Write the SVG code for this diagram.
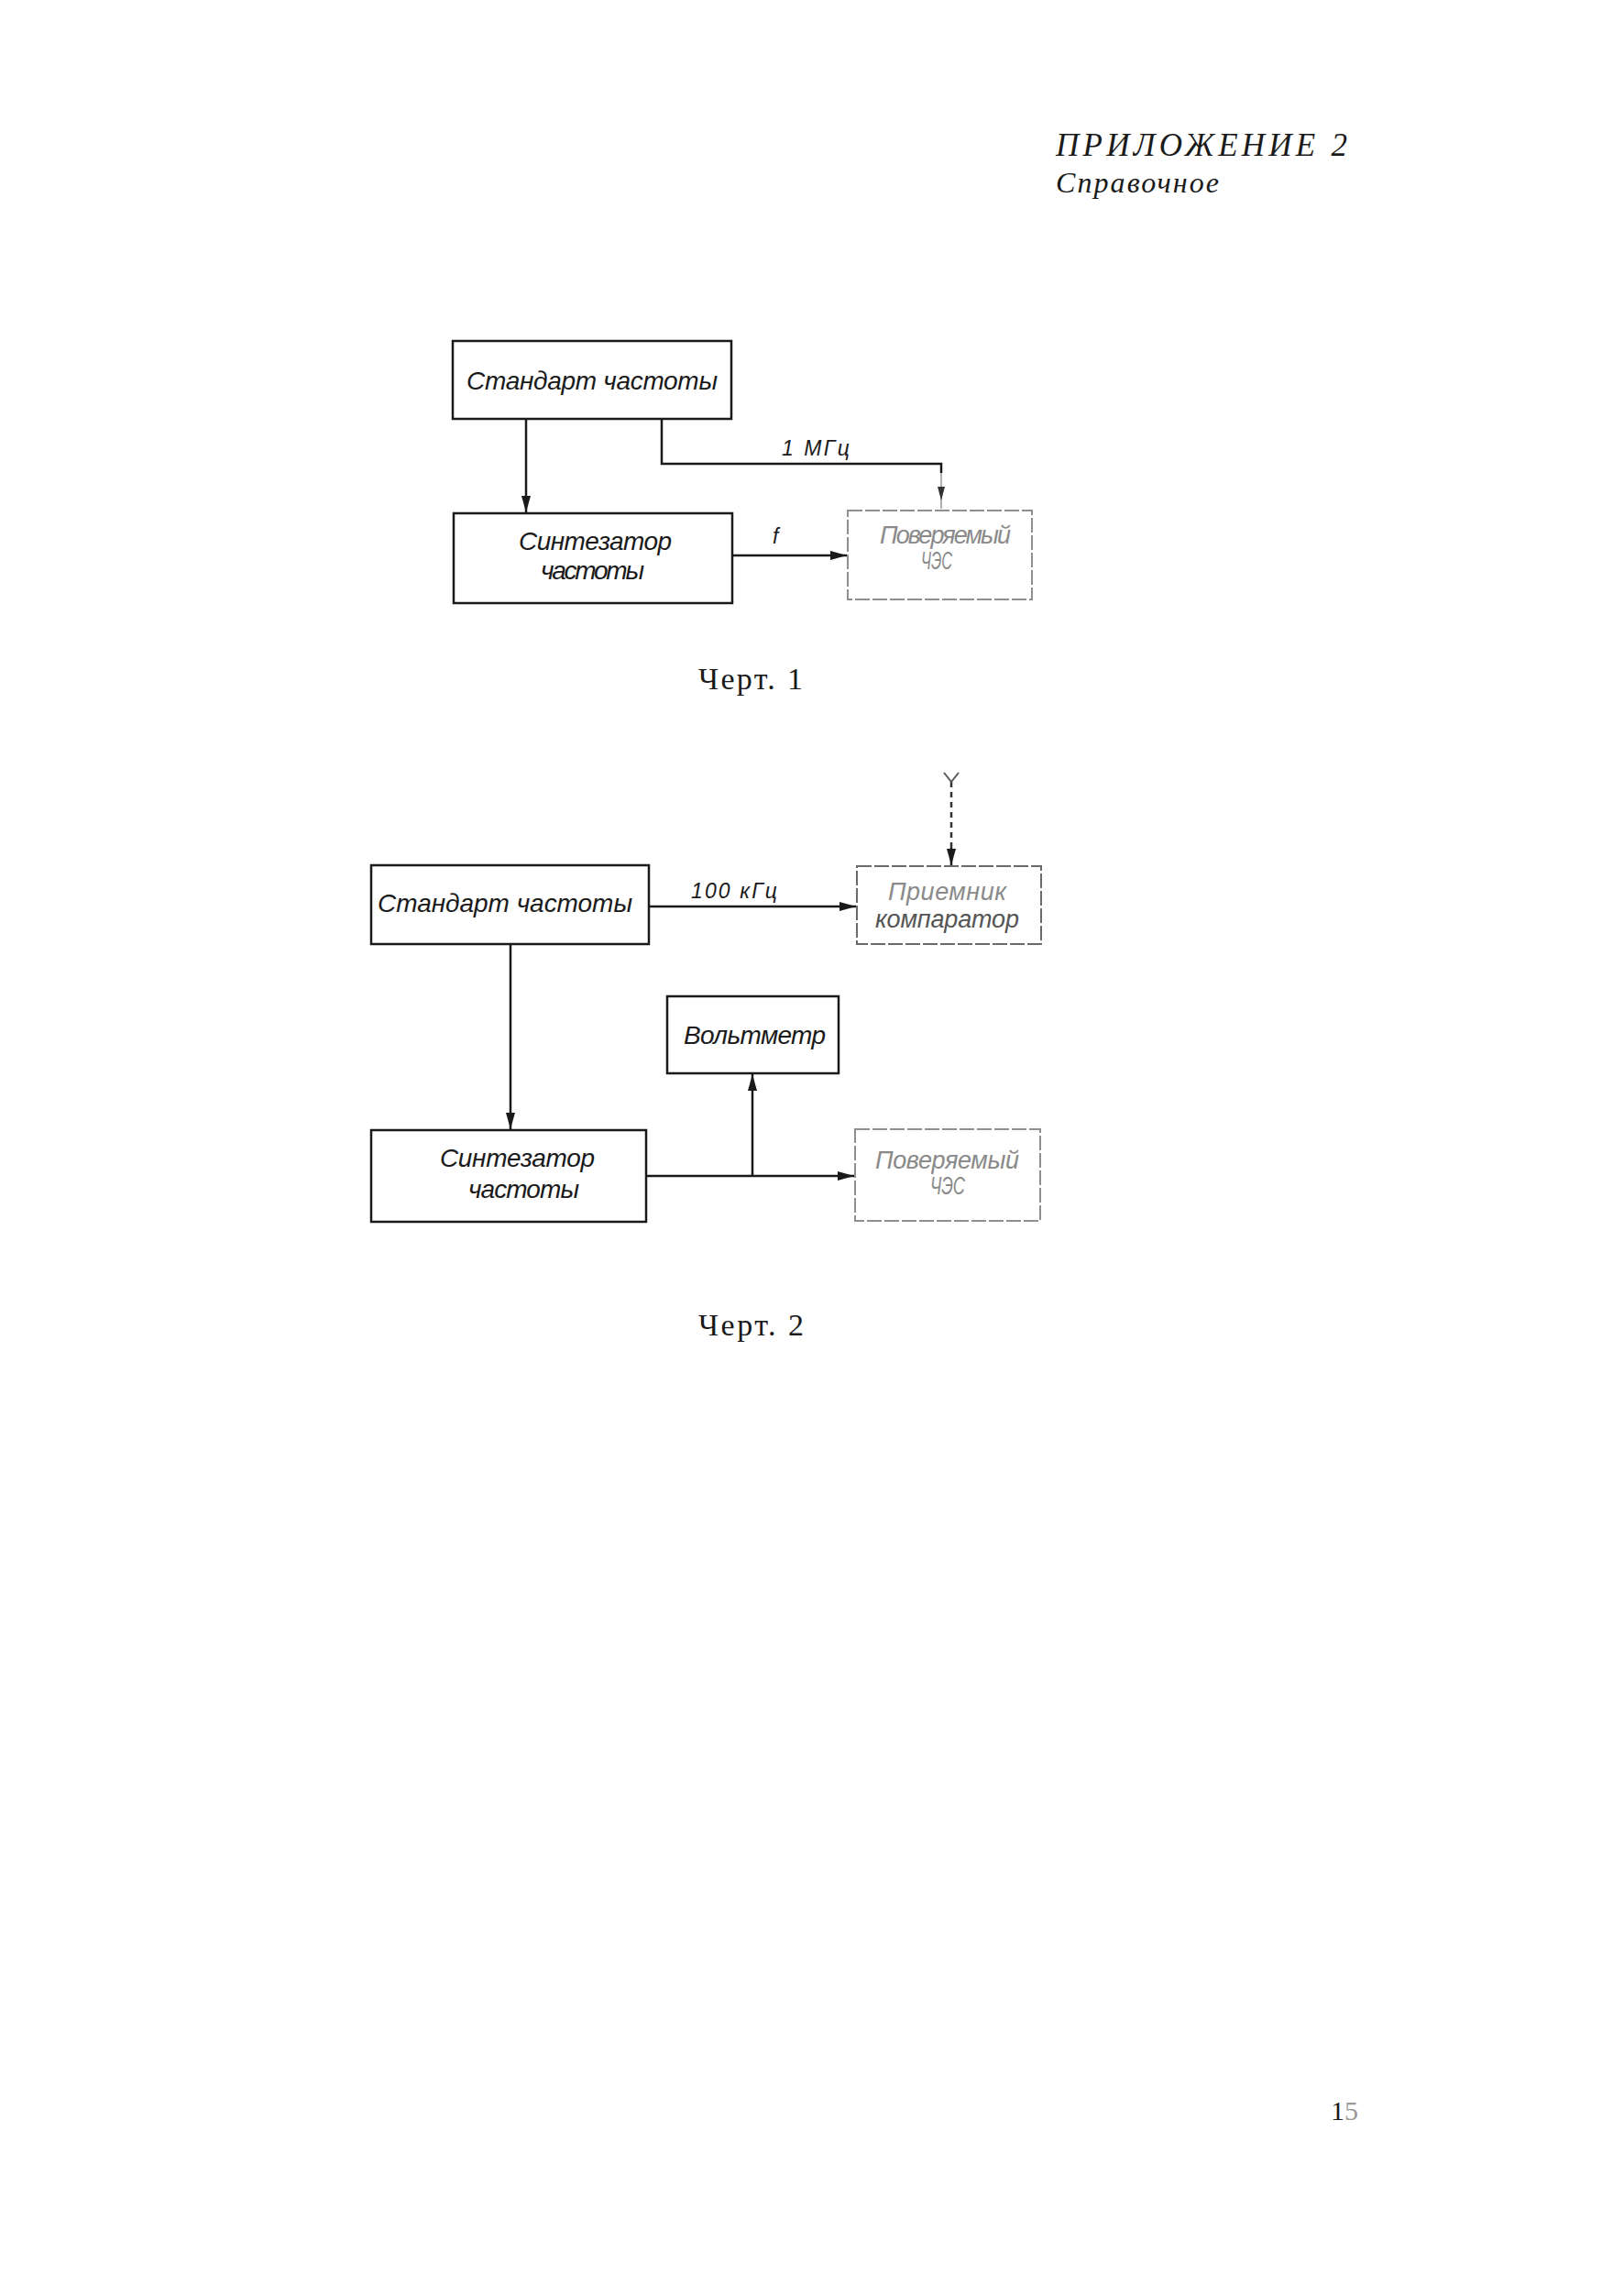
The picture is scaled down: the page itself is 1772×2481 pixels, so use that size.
<svg xmlns="http://www.w3.org/2000/svg" width="1772" height="2481" viewBox="0 0 1772 2481">
<style>
.bg{fill:#ffffff}
.box{fill:none;stroke:#1a1a1a;stroke-width:2.5}
.fbox{fill:none;stroke:#8f8f8f;stroke-width:2;stroke-dasharray:16 3}
.lbl{font-family:"Liberation Sans",Arial,sans-serif;font-style:italic;font-size:28px;fill:#1a1a1a}
.flbl{font-family:"Liberation Sans",Arial,sans-serif;font-style:italic;font-size:27px;fill:#8a8a8a}
.small{font-family:"Liberation Sans",Arial,sans-serif;font-style:italic;font-size:23px;fill:#1a1a1a}
.serif{font-family:"Liberation Serif","Times New Roman",serif;fill:#1a1a1a}
.ln{fill:none;stroke:#1a1a1a;stroke-width:2.5}
.fln{fill:none;stroke:#b0b0b0;stroke-width:2}
.dln{fill:none;stroke:#333;stroke-width:2.5;stroke-dasharray:6 5}
</style>
<defs>
<marker id="ah" markerUnits="userSpaceOnUse" markerWidth="20" markerHeight="12" refX="18" refY="5" orient="auto">
<path d="M0,0 L18,5 L0,10 Z" fill="#1a1a1a"/>
</marker>
</defs>
<rect class="bg" x="0" y="0" width="1772" height="2481"/>

<g id="header">
<text class="serif" x="1152" y="170" font-size="35" font-style="italic" textLength="318" lengthAdjust="spacing">ПРИЛОЖЕНИЕ 2</text>
<text class="serif" x="1152" y="210" font-size="32" font-style="italic" textLength="178" lengthAdjust="spacing">Справочное</text>
</g>

<!-- Chart 1 -->
<g id="c1-standard">
<rect class="box" x="494" y="372" width="304" height="85"/>
<text class="lbl" x="509" y="425" textLength="274" lengthAdjust="spacing">Стандарт частоты</text>
</g>
<g id="c1-synth">
<rect class="box" x="495" y="560" width="304" height="98"/>
<text class="lbl" x="566" y="600" textLength="167" lengthAdjust="spacing">Синтезатор</text>
<text class="lbl" x="590" y="632" textLength="113" lengthAdjust="spacing">частоты</text>
</g>
<g id="c1-dut">
<rect class="fbox" x="925" y="557" width="201" height="97"/>
<text class="flbl" x="960" y="593" textLength="143" lengthAdjust="spacing">Поверяемый</text>
<text class="flbl" x="1005" y="621" textLength="34" lengthAdjust="spacingAndGlyphs">ЧЭС</text>
</g>
<g id="c1-connectors">
<line class="ln" x1="574" y1="457" x2="574" y2="559" marker-end="url(#ah)"/>
<polyline class="ln" points="722,457 722,506 1027,506 1027,516"/>
<line class="fln" x1="1027" y1="516" x2="1027" y2="555"/>
<path d="M1023,531 L1031,531 L1027,546 Z" fill="#333"/>
<line class="ln" x1="799" y1="606" x2="924" y2="606" marker-end="url(#ah)"/>
<text class="small" x="853" y="497" textLength="74" lengthAdjust="spacing">1 МГц</text>
<text class="small" x="843" y="593">f</text>
</g>
<text id="cap1" class="serif" x="762" y="752" font-size="34" textLength="114" lengthAdjust="spacing">Черт. 1</text>

<!-- Chart 2 -->
<g id="c2-standard">
<rect class="box" x="405" y="944" width="303" height="86"/>
<text class="lbl" x="412" y="995" textLength="278" lengthAdjust="spacing">Стандарт частоты</text>
</g>
<g id="c2-receiver">
<rect class="fbox" x="935" y="945" width="201" height="85" style="stroke:#6a6a6a"/>
<text class="flbl" x="969" y="982" textLength="129" lengthAdjust="spacing">Приемник</text>
<text class="flbl" x="955" y="1012" textLength="157" lengthAdjust="spacing" style="fill:#555">компаратор</text>
</g>
<g id="c2-voltmeter">
<rect class="box" x="728" y="1087" width="187" height="84"/>
<text class="lbl" x="746" y="1139" textLength="155" lengthAdjust="spacing">Вольтметр</text>
</g>
<g id="c2-synth">
<rect class="box" x="405" y="1233" width="300" height="100"/>
<text class="lbl" x="480" y="1273" textLength="169" lengthAdjust="spacing">Синтезатор</text>
<text class="lbl" x="511" y="1307" textLength="121" lengthAdjust="spacing">частоты</text>
</g>
<g id="c2-dut">
<rect class="fbox" x="933" y="1232" width="202" height="100"/>
<text class="flbl" x="955" y="1275" textLength="157" lengthAdjust="spacing">Поверяемый</text>
<text class="flbl" x="1015" y="1303" textLength="38" lengthAdjust="spacingAndGlyphs">ЧЭС</text>
</g>
<g id="c2-connectors">
<line class="ln" x1="557" y1="1030" x2="557" y2="1232" marker-end="url(#ah)"/>
<line class="ln" x1="708" y1="989" x2="934" y2="989" marker-end="url(#ah)"/>
<line class="dln" x1="1038" y1="853" x2="1038" y2="925"/>
<line class="ln" x1="1038" y1="925" x2="1038" y2="944" marker-end="url(#ah)"/>
<polyline class="fln" points="1030,843 1038,853 1046,843" style="stroke:#555"/>
<line class="ln" x1="705" y1="1283" x2="932" y2="1283" marker-end="url(#ah)"/>
<line class="ln" x1="821" y1="1283" x2="821" y2="1172" marker-end="url(#ah)"/>
<text class="small" x="754" y="980" textLength="94" lengthAdjust="spacing">100 кГц</text>
</g>
<text id="cap2" class="serif" x="762" y="1457" font-size="34" textLength="115" lengthAdjust="spacing">Черт. 2</text>

<text id="page" class="serif" x="1452" y="2313" font-size="30">1<tspan fill="#9a9a9a">5</tspan></text>
</svg>
